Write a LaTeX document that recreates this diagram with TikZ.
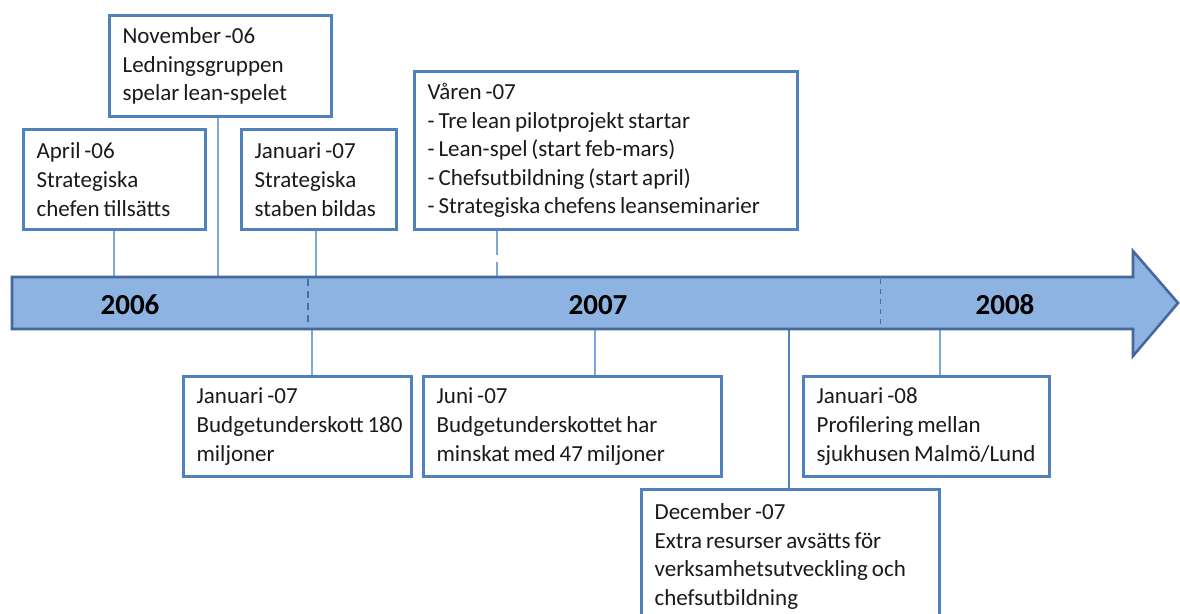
\documentclass[tikz,border=0pt]{standalone}
\usepackage{fontspec}
\setmainfont{Carlito}
\definecolor{boxblue}{HTML}{4F81BD}
\definecolor{barfill}{HTML}{8DB3E2}
\definecolor{barline}{HTML}{45699A}
\definecolor{connlight}{HTML}{7FA7D8}
\definecolor{txt}{HTML}{1A1A1A}
\newcommand{\evl}[1]{\mbox{#1}}
\newcommand{\evsetup}{\fontsize{23}{28.6}\selectfont\spaceskip=0.17em plus 0.05em\relax\hbadness=10000\relax\hfuzz=100pt\relax}
\begin{document}
\begin{tikzpicture}[x=1pt,y=-1pt,
  evbox/.style={draw=boxblue, line width=3.2pt, fill=white, anchor=north west,
    align=left, inner xsep=13pt, inner ysep=0pt, text=txt,
    font=\fontsize{23}{28.6}\selectfont, execute at begin node=\evsetup},
  conn/.style={draw=connlight, line width=2.2pt},
  yearlbl/.style={font=\fontsize{29}{30}\selectfont\bfseries, text=black, anchor=base},
  sep/.style={draw=boxblue!85!black, line width=1.6pt, dash pattern=on 7pt off 5pt}]
\useasboundingbox (0,0) rectangle (1180,613);

% boxes
\node[evbox, minimum width=222pt, minimum height=101pt, text width=196pt] (nov) at (108,14)
  {\evl{November -06}\\\evl{Ledningsgruppen}\\\evl{spelar lean-spelet}};
\node[evbox, minimum width=182pt, minimum height=100pt, text width=156pt] (apr) at (22,128)
  {\evl{April -06}\\\evl{Strategiska}\\\evl{chefen tillsätts}};
\node[evbox, minimum width=155pt, minimum height=100pt, text width=129pt] (jant) at (240,128)
  {\evl{Januari -07}\\\evl{Strategiska}\\\evl{staben bildas}};
\node[evbox, minimum width=383pt, minimum height=158pt, text width=357pt] (var) at (413,70)
  {\evl{Våren -07}\\\evl{- Tre lean pilotprojekt startar}\\\evl{- Lean-spel (start feb-mars)}\\\evl{- Chefsutbildning (start april)}\\\evl{- Strategiska chefens leanseminarier}};
\node[evbox, minimum width=228pt, minimum height=100pt, text width=202pt] (janb) at (182,375)
  {\evl{Januari -07}\\\evl{Budgetunderskott 180}\\\evl{miljoner}};
\node[evbox, minimum width=298pt, minimum height=100pt, text width=272pt] (jun) at (422,375)
  {\evl{Juni -07}\\\evl{Budgetunderskottet har}\\\evl{minskat med 47 miljoner}};
\node[evbox, minimum width=246pt, minimum height=100pt, text width=220pt] (jan8) at (802,375)
  {\evl{Januari -08}\\\evl{Profilering mellan}\\\evl{sjukhusen Malmö/Lund}};
\node[evbox, minimum width=298pt, minimum height=134pt, text width=272pt] (dec) at (640,488)
  {\evl{December -07}\\\evl{Extra resurser avsätts för}\\\evl{verksamhetsutveckling och}\\\evl{chefsutbildning}};

% attachment points on the bar
\coordinate (t1) at (114,277);
\coordinate (t2) at (218,277);
\coordinate (t3) at (316,277);
\coordinate (t4) at (497,277);
\coordinate (b1) at (312,329);
\coordinate (b2) at (595,329);
\coordinate (b3) at (789,329);
\coordinate (b4) at (940,329);

% connectors
\draw[conn] (t1 |- apr.south) -- (t1);
\draw[conn] (t2 |- nov.south) -- (t2);
\draw[conn] (t3 |- jant.south) -- (t3);
\draw[conn, dash pattern=on 24pt off 7pt on 14pt off 2pt] (t4 |- var.south) -- (t4);
\draw[conn] (b1) -- (b1 |- janb.north);
\draw[conn] (b2) -- (b2 |- jun.north);
\draw[conn, draw=boxblue] (b3) -- (b3 |- dec.north);
\draw[conn] (b4) -- (b4 |- jan8.north);

% timeline arrow
\draw[fill=barfill, draw=barline, line width=2.6pt, line join=miter]
  (12,277) -- (1133,277) -- (1133,251) -- (1178,303) -- (1133,356) -- (1133,329) -- (12,329) -- cycle;
\coordinate (s1t) at (308,279);
\coordinate (s1b) at (308,327);
\coordinate (s2t) at (880,279);
\coordinate (s2b) at (880,327);
\draw[sep] (s1t) -- (s1b);
\draw[sep, line width=1pt, dash pattern=on 5pt off 5pt] (s2t) -- (s2b);

\node[yearlbl] (y6) at (130,314) {2006};
\node[yearlbl] (y7) at (598,314) {2007};
\node[yearlbl] (y8) at (1005,314) {2008};
\end{tikzpicture}
\end{document}
